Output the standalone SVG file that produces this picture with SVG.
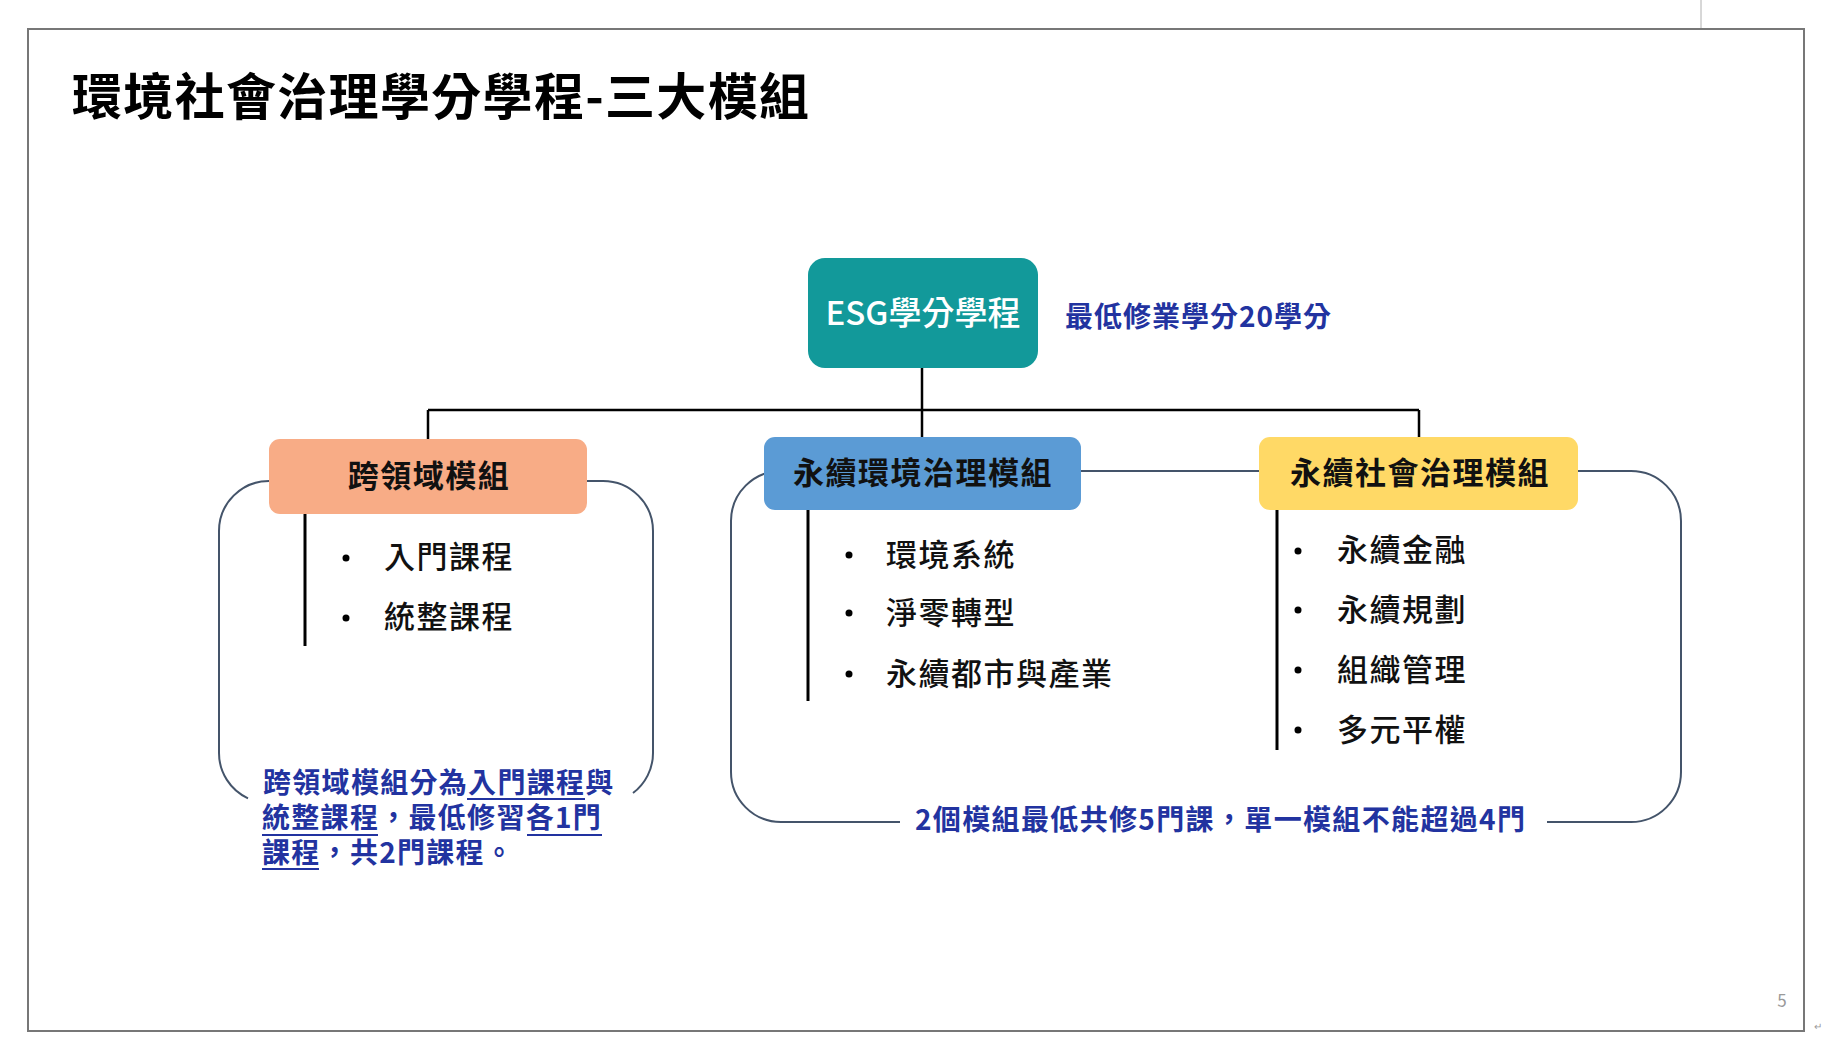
<svg xmlns="http://www.w3.org/2000/svg" width="1831" height="1054" viewBox="0 0 1831 1054" lang="zh-TW" xml:lang="zh-TW">
<style>
  text { font-family: "Noto Sans CJK TC", "Noto Sans CJK SC", "Noto Sans", sans-serif; }
  .title { font-size: 50px; font-weight: 700; fill: #000; }
  .box-title { font-size: 31px; font-weight: 700; fill: #111; letter-spacing: 1.5px; text-anchor: middle; }
  .item { font-size: 31px; font-weight: 500; fill: #111; letter-spacing: 1.5px; }
  .note { font-size: 28px; font-weight: 700; fill: #2233A0; font-feature-settings: "locl" 1; }
  .tree { stroke: #000; stroke-width: 2.5; fill: none; }
  .bracket { stroke: #44546A; stroke-width: 2; fill: none; }
  .stem { stroke: #000; stroke-width: 3; fill: none; }
  .uline { stroke: #2233A0; stroke-width: 2; }
  .dot { fill: #000; }
</style>
<rect x="0" y="0" width="1831" height="1054" fill="#ffffff"/>
<line x1="1701" y1="0" x2="1701" y2="29" stroke="#b0b0b0" stroke-width="1"/>
<rect x="28" y="29" width="1776" height="1002" fill="#ffffff" stroke="#777777" stroke-width="2"/>
<text class="title" x="72" y="115" textLength="737" lengthAdjust="spacing">環境社會治理學分學程-三大模組</text>

<g id="connectors">
  <path class="tree" d="M922 368 V410 M428 410 H1419 M428 410 V439 M922 410 V437 M1419 410 V437"/>
  <path class="bracket" d="M269 481 A50 50 0 0 0 219 531 V753 A50 50 0 0 0 248 798.3"/>
  <path class="bracket" d="M587 481 H603 A50 50 0 0 1 653 531 V753 A50 50 0 0 1 633 793"/>
  <path class="bracket" d="M781 471 A50 50 0 0 0 731 521 V772 A50 50 0 0 0 781 822 H900"/>
  <path class="bracket" d="M1081 471 H1259"/>
  <path class="bracket" d="M1578 471 H1631 A50 50 0 0 1 1681 521 V772 A50 50 0 0 1 1631 822 H1547"/>
  <path class="stem" d="M305 514 V646"/>
  <path class="stem" d="M808 510 V701"/>
  <path class="stem" d="M1277 510 V750"/>
</g>

<g id="node-esg">
  <rect x="808" y="258" width="230" height="110" rx="17" fill="#12999A"/>
  <text x="923" y="325" font-size="33" font-weight="500" fill="#ffffff" text-anchor="middle">ESG學分學程</text>
</g>
<g id="note-credits">
  <text class="note" x="1065" y="327" font-size="29" textLength="266" lengthAdjust="spacing">最低修業學分20學分</text>
</g>

<g id="node-cross">
  <rect x="269" y="439" width="318" height="75" rx="11" fill="#F8AC86"/>
  <text class="box-title" x="429" y="487">跨領域模組</text>
</g>
<g id="list-cross">
  <circle class="dot" cx="346" cy="558" r="3.5"/>
  <text class="item" x="384" y="568">入門課程</text>
  <circle class="dot" cx="346" cy="618" r="3.5"/>
  <text class="item" x="384" y="628">統整課程</text>
</g>
<g id="note-cross">
  <text class="note" lang="zh-TW" letter-spacing="1.3"><tspan x="263" y="793">跨領域模組分為入門課程與</tspan><tspan x="262" y="828">統整課程，最低修習各1門</tspan><tspan x="262" y="863">課程，共2門課程。</tspan></text>
  <line class="uline" x1="467" y1="799" x2="585" y2="799"/>
  <line class="uline" x1="262" y1="835" x2="378" y2="835"/>
  <line class="uline" x1="527" y1="835" x2="602" y2="835"/>
  <line class="uline" x1="262" y1="869" x2="319" y2="869"/>
</g>

<g id="node-env">
  <rect x="764" y="437" width="317" height="73" rx="11" fill="#5B9BD5"/>
  <text class="box-title" x="923" y="484">永續環境治理模組</text>
</g>
<g id="list-env">
  <circle class="dot" cx="849" cy="555" r="3.5"/>
  <text class="item" x="886" y="566">環境系統</text>
  <circle class="dot" cx="849" cy="613" r="3.5"/>
  <text class="item" x="886" y="624">淨零轉型</text>
  <circle class="dot" cx="849" cy="674" r="3.5"/>
  <text class="item" x="886" y="685">永續都市與產業</text>
</g>

<g id="node-soc">
  <rect x="1259" y="437" width="319" height="73" rx="11" fill="#FFD966"/>
  <text class="box-title" x="1420" y="484">永續社會治理模組</text>
</g>
<g id="list-soc">
  <circle class="dot" cx="1298" cy="551" r="3.5"/>
  <text class="item" x="1337" y="561">永續金融</text>
  <circle class="dot" cx="1298" cy="610" r="3.5"/>
  <text class="item" x="1337" y="621">永續規劃</text>
  <circle class="dot" cx="1298" cy="670" r="3.5"/>
  <text class="item" x="1337" y="681">組織管理</text>
  <circle class="dot" cx="1298" cy="730" r="3.5"/>
  <text class="item" x="1337" y="741">多元平權</text>
</g>

<g id="note-modules">
  <text class="note" lang="zh-TW" x="915" y="830" textLength="610" lengthAdjust="spacing">2個模組最低共修5門課，單一模組不能超過4門</text>
</g>

<text x="1782" y="1007" font-size="17" fill="#9a9a9a" text-anchor="middle">5</text>
<text x="1818" y="1030" font-size="10" fill="#9a9a9a" text-anchor="middle">↵</text>
</svg>
